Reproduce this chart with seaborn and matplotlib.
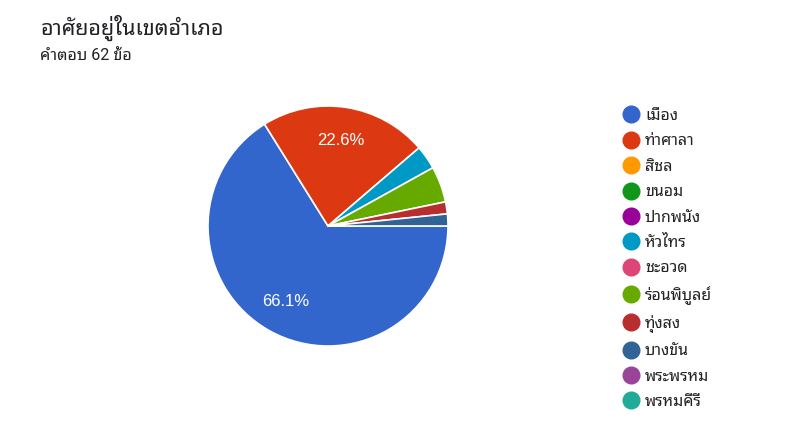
import matplotlib
matplotlib.use("Agg")
import matplotlib.pyplot as plt
from matplotlib.lines import Line2D
import seaborn as sns
import pandas as pd

# ---- data ----
districts = ["เมือง", "ท่าศาลา", "สิชล", "ขนอม", "ปากพนัง", "หัวไทร",
             "ชะอวด", "ร่อนพิบูลย์", "ทุ่งสง", "บางขัน", "พระพรหม", "พรหมคีรี"]
counts = [41, 14, 0, 0, 0, 2, 0, 3, 1, 1, 0, 0]
colors = ["#3366cc", "#dc3912", "#ff9900", "#109618", "#990099", "#0099c6",
          "#dd4477", "#66aa00", "#b82e2e", "#316395", "#994499", "#22aa99"]
title = "อาศัยอยู่ในเขตอำเภอ"
subtitle = "คำตอบ 62 ข้อ"

sns.set_theme(style="white")
FAM = ["Roboto", "Noto Sans Thai Looped", "DejaVu Sans"]
plt.rcParams["font.family"] = FAM

df = pd.DataFrame({"district": districts, "count": counts, "color": colors})
nz = df[df["count"] > 0]

fig = plt.figure(figsize=(8, 4.43), dpi=100)
W, H = 800, 443
cx, cy, r = 328, 226, 120
ax = fig.add_axes([(cx - r) / W, (H - cy - r) / H, 2 * r / W, 2 * r / H])

def pct(p):
    return f"{p:.1f}%" if p > 10 else ""

wedges, texts, autotexts = ax.pie(
    nz["count"], colors=nz["color"], startangle=0, counterclock=False,
    autopct=pct, pctdistance=0.72,
    wedgeprops=dict(edgecolor="white", linewidth=1.2),
    textprops=dict(color="white", fontsize=12,
                   family=["Liberation Sans", "DejaVu Sans"]),
)
ax.set_xlim(-1.0, 1.0)
ax.set_ylim(-1.0, 1.0)
ax.set_aspect("equal")

fig.text(40 / W, 1 - 28 / H, title, fontsize=15.5, color="#202124", va="center")
fig.text(40 / W, 1 - 55 / H, subtitle, fontsize=11.6, color="#202124", va="center")

handles = [Line2D([], [], marker="o", linestyle="", markersize=12,
                  markerfacecolor=c, markeredgecolor=c) for c in colors]
leg = fig.legend(handles, districts, loc="upper left",
                 bbox_to_anchor=(613 / W, 1 - 100 / H), frameon=False,
                 fontsize=11.5, labelspacing=0.65, handletextpad=0.3,
                 handlelength=1.2, borderpad=0)
for t in leg.get_texts():
    t.set_color("#222222")

fig.savefig("out.png", dpi=100)
